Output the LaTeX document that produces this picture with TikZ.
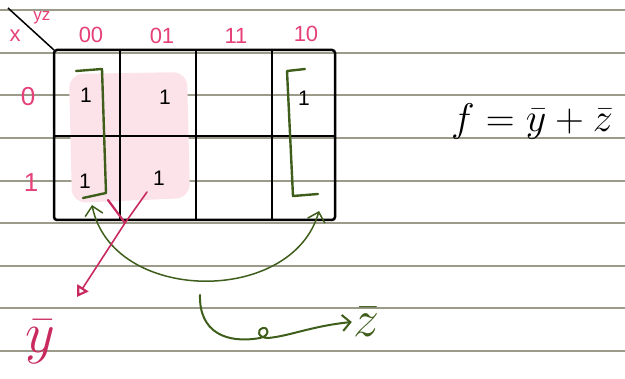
\documentclass[tikz,border=0pt]{standalone}
\usepackage{fix-cm}
\usepackage{amsmath}
\usepackage{fontspec}
\setmainfont{Liberation Sans}
\usepackage{tikz}
\usetikzlibrary{arrows.meta, positioning}
\definecolor{KMpink}{HTML}{E5407A}
\definecolor{KMrose}{HTML}{C82A60}
\definecolor{KMgreen}{HTML}{3F5E1B}
\definecolor{KMpaper}{HTML}{9C9A88}
\definecolor{KMshade}{HTML}{FBE3E9}

\begin{document}
\begin{tikzpicture}[x=1pt, y=-1pt,
    lbl/.style={KMpink, font=\fontsize{22}{24}\selectfont},
    one/.style={font=\fontsize{21}{23}\selectfont},
    grp/.style={KMgreen, line width=2.4pt, line cap=round, line join=round}]
        \useasboundingbox (0,0) rectangle (625,379);
        % ruled paper
        \foreach \ly in {10,53,95.5,138,181,223.5,266,308.5,351}
          \draw[KMpaper, line width=2pt] (0,\ly) -- (625,\ly);
        % the y-bar group
        \fill[KMshade, rounded corners=14pt] (69,74) -- (187,72) -- (190,198) -- (72,203) -- cycle;
        % map
        \draw[line width=2.5pt, rounded corners=3pt] (54,50) rectangle (335,220);
        \draw[line width=2.5pt] (120,50) -- (120,220) (196,50) -- (196,220)
          (272,50) -- (272,220) (54,136) -- (335,136);
        \draw[line width=1.5pt] (8,8) -- (54,50);
        \node[lbl, font=\fontsize{22}{24}\selectfont] (xvar) at (15,36) {x};
        \node[lbl, font=\fontsize{17}{19}\selectfont] (yzvar) at (42,18) {yz};
        \node[lbl] (c00) at (91,35) {00};
        \node[lbl] (c01) at (162,36) {01};
        \node[lbl] (c11) at (236,36) {11};
        \node[lbl] (c10) at (306,34) {10};
        \node[lbl, font=\fontsize{26}{28}\selectfont] (r0) at (28,97) {0};
        \node[lbl, font=\fontsize{26}{28}\selectfont] (r1) at (31,183) {1};
        \node[one] (m000) at (86,95) {1};
        \node[one] (m001) at (165,97) {1};
        \node[one] (m010) at (304,98) {1};
        \node[one] (m100) at (85,181) {1};
        \node[one] (m101) at (159,178) {1};
        % z-bar group: left and right columns
        \draw[grp] (76,71) -- (102,69) -- (106,193) -- (83,198);
        \draw[grp] (305,69) -- (287,71) -- (293,196) -- (318,194);
        \coordinate (zl) at (92,205);
        \coordinate (zr) at (319,211);
        \draw[KMgreen, line width=1.5pt, {Straight Barb[length=9pt,width=18pt]}-{Straight Barb[length=9pt,width=18pt]}]
          (zl) .. controls (112,304) and (292,306) .. (zr);
        \coordinate (ystart) at (147,192);
        \coordinate (yknee) at (125,223);
        \node[KMrose, font=\fontsize{58}{60}\selectfont] (ybar) at (40,342) {$\bar{y}$};
        \draw[KMrose, line width=2.2pt, line cap=round] (108,200) -- (yknee);
        \draw[KMrose, line width=1.6pt, line cap=round, -{Triangle[open, length=11pt, width=13pt, line width=2.2pt]}]
          (ystart) -- (yknee) -- (77,297);
        \node[KMgreen, inner sep=1pt, font=\fontsize{52}{54}\selectfont] (zbar) at (366,322) {$\bar{z}$};
        \coordinate (hook) at (200,295);
        \draw[grp, line width=2pt, -{Straight Barb[length=8pt,width=16pt]}]
          (hook) .. controls (199,332) and (226,344) .. (260,338)
          .. controls (270,336) and (269,327) .. (263,328)
          .. controls (256,330) and (258,338) .. (268,338)
          .. controls (290,336) and (312,326) .. (zbar.west);
        \node[font=\fontsize{40}{44}\selectfont] (fn) at (532,122) {$f=\bar{y}+\bar{z}$};
      \end{tikzpicture}
\end{document}
